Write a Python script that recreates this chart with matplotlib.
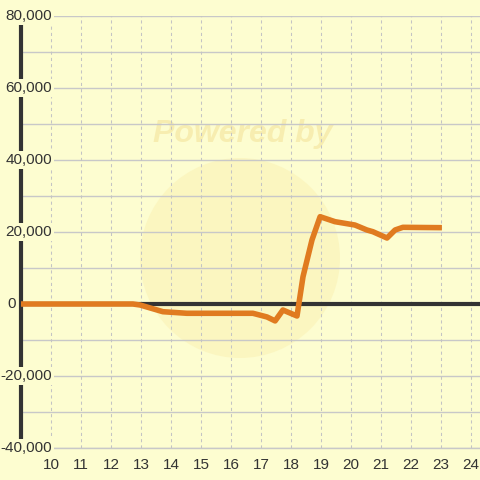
import matplotlib.pyplot as plt
from matplotlib.patches import Circle
import matplotlib.transforms as mtransforms

plt.rcParams['font.family'] = ['Liberation Sans', 'DejaVu Sans']

# series
hours = [9.0, 12.73, 12.97, 13.73, 14.53, 16.73, 17.2, 17.47, 17.73, 18.2,
         18.4, 18.7, 18.97, 19.47, 20.13, 20.53, 20.73, 21.2, 21.47, 21.73, 23.03]
values = [0, 0, -280, -2140, -2580, -2580, -3600, -4700, -1670, -3330,
          7580, 17800, 24250, 22860, 21940, 20560, 20080, 18330, 20560, 21300, 21200]

x_ticks = list(range(10, 25))
y_ticks = [-40000, -20000, 0, 20000, 40000, 60000, 80000]
y_grid = list(range(-40000, 80001, 10000))

bg = '#fdfdd0'
fig = plt.figure(figsize=(4.8, 4.8), dpi=100, facecolor=bg)
ax = fig.add_axes([21 / 480, 32 / 480, 459 / 480, 432 / 480], facecolor=bg)
ax.set_xlim(9, 9 + 459 / 30)
ax.set_ylim(-40000, 80000)

# faint watermark
ax.add_patch(Circle((240 / 480, 1 - 258 / 480), 100 / 480, transform=fig.transFigure,
                    facecolor='#fbf2b6', edgecolor='none', alpha=0.6, zorder=0))
ax.text(243 / 480, 1 - 134 / 480, 'Powered by', transform=fig.transFigure,
        ha='center', va='center', fontsize=23, fontweight='bold', style='italic',
        color='#f6eaa8', alpha=0.8, zorder=0)

for v in y_grid:
    ax.axhline(v, color='#c8c8c8', lw=1, zorder=1)
for t in x_ticks:
    ax.axvline(t, color='#c4c4c4', lw=0.75, ls=(0, (3, 3)), zorder=1)

ax.axhline(0, color='#333333', lw=3, zorder=2)
ax.plot(hours, values, color='#e07b20', lw=4, solid_capstyle='butt',
        solid_joinstyle='round', zorder=3)

for s in ['top', 'right']:
    ax.spines[s].set_visible(False)
ax.spines['bottom'].set_color('#c8c8c8')
ax.spines['bottom'].set_linewidth(1)
ax.spines['left'].set_color('#333333')
ax.spines['left'].set_linewidth(3)

ax.set_xticks(x_ticks)
ax.set_xticklabels([str(t) for t in x_ticks])
ax.tick_params(axis='x', length=0, pad=7, labelsize=11, labelcolor='#333333')
ax.set_yticks([])

trans = mtransforms.blended_transform_factory(fig.transFigure, ax.transData)
for v in y_ticks:
    if v == 0:
        xpos, ha = 7 / 480, 'left'
    else:
        xpos, ha = 52 / 480, 'right'
    ax.text(xpos, v, f'{v:,}', transform=trans, ha=ha, va='center',
            fontsize=11, color='#333333', clip_on=False, zorder=5,
            bbox=dict(boxstyle='square,pad=0.1', facecolor=bg, edgecolor='none'))

fig.savefig('out.png', dpi=100, facecolor=bg)
